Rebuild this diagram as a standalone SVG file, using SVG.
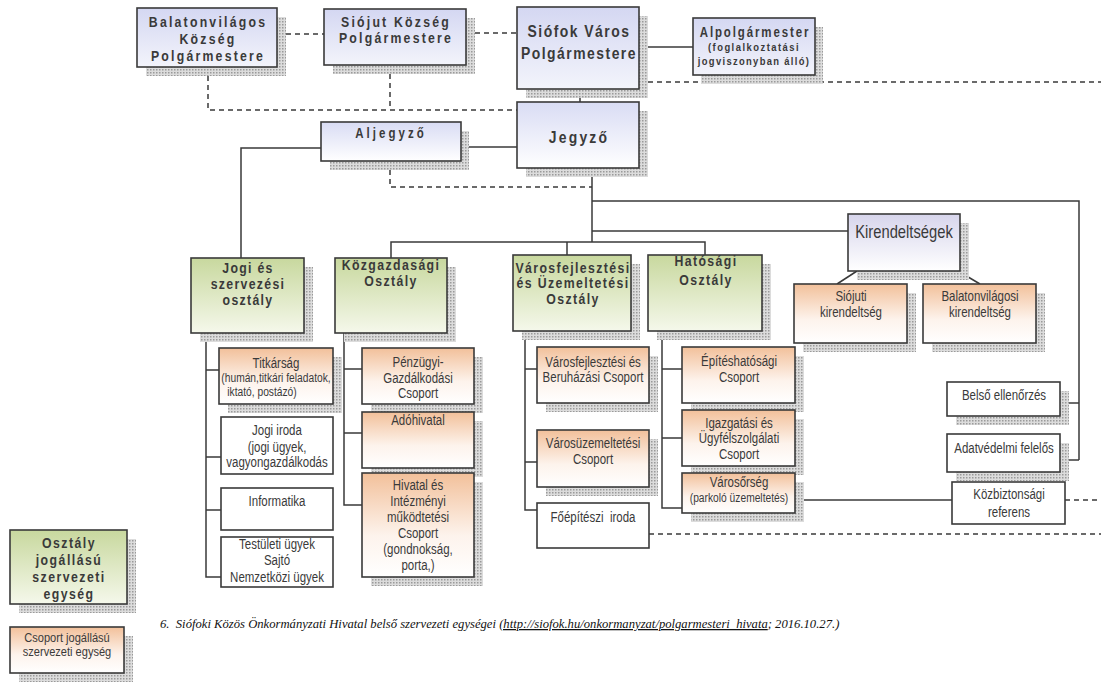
<svg xmlns="http://www.w3.org/2000/svg" width="1101" height="687" viewBox="0 0 1101 687">
<defs>
<pattern id="hatch" width="3" height="3" patternUnits="userSpaceOnUse"><rect width="3" height="3" fill="#dcdcdc"/><rect width="1.5" height="1.5" fill="#9a9a9a"/></pattern>
<linearGradient id="gBlue" x1="0" y1="0" x2="0" y2="1"><stop offset="0" stop-color="#d4d7f2"/><stop offset="1" stop-color="#f3f4fb"/></linearGradient>
<linearGradient id="gBlue2" x1="0" y1="0" x2="0" y2="1"><stop offset="0" stop-color="#d9dcf4"/><stop offset="1" stop-color="#ffffff"/></linearGradient>
<linearGradient id="gGreen" x1="0" y1="0" x2="0" y2="1"><stop offset="0" stop-color="#c8d89e"/><stop offset="1" stop-color="#f5f8eb"/></linearGradient>
<linearGradient id="gOrange" x1="0" y1="0" x2="0" y2="1"><stop offset="0" stop-color="#f2c09a"/><stop offset="0.6" stop-color="#fdf3ec"/><stop offset="1" stop-color="#ffffff"/></linearGradient>
<linearGradient id="gKir" x1="0" y1="0" x2="0" y2="1"><stop offset="0" stop-color="#d7d5ec"/><stop offset="1" stop-color="#ffffff"/></linearGradient>
</defs>
<style>
.box{stroke:#3a3a3a;stroke-width:1.6}
.sh{fill:url(#hatch)}
.blue{fill:url(#gBlue)}
.blue2{fill:url(#gBlue2)}
.green{fill:url(#gGreen)}
.orange{fill:url(#gOrange)}
.kir{fill:url(#gKir)}
.white{fill:#ffffff}
.t{font-family:"Liberation Sans",Arial,sans-serif;font-weight:bold;fill:#3a3a3a;text-anchor:middle}
.n{font-family:"Liberation Sans",Arial,sans-serif;fill:#3a3a3a;text-anchor:middle;font-size:14px}
.s{font-size:12.5px}
.line{fill:none;stroke:#3a3a3a;stroke-width:1.5}
.dash{fill:none;stroke:#3a3a3a;stroke-width:1.5;stroke-dasharray:5 4}
.cap{font-family:"Liberation Serif","Times New Roman",serif;font-style:italic;font-size:12.65px;fill:#111}
</style>

<g id="connectors">
<path class="line" d="M639,47 H693"/>
<path class="line" d="M580,89 V102"/>
<path class="line" d="M461,147 H517"/>
<path class="line" d="M321,148 H241 V258"/>
<path class="line" d="M592,168 V242"/>
<path class="line" d="M391,258 V242 H705 V255"/>
<path class="line" d="M567,242 V255"/>
<path class="line" d="M592,201 H1079 V460"/>
<path class="line" d="M592,231 H848"/>
<path class="line" d="M857,271 L837,284"/>
<path class="line" d="M958,271 L980,284"/>
<path class="line" d="M1060,403 H1079"/>
<path class="line" d="M1060,460 H1079"/>
<path class="line" d="M206,333 V577 H221 M206,370 H219 M206,457 H221 M206,510 H221"/>
<path class="line" d="M344,333 V505 H362 M344,369 H362 M344,433 H362"/>
<path class="line" d="M525,331 V510 H537 M525,369 H537 M525,462 H537"/>
<path class="line" d="M662,331 V508 H682 M662,369 H682 M662,438 H682"/>
<path class="line" d="M795,500 H952"/>
<path class="dash" d="M277,34 H324"/>
<path class="dash" d="M466,33 H517"/>
<path class="dash" d="M208,67 V110 H517"/>
<path class="dash" d="M390,65 V110"/>
<path class="dash" d="M639,82 H1101"/>
<path class="dash" d="M390,161 V187 H592"/>
<path class="dash" d="M1065,500 H1101"/>
<path class="dash" d="M649,534 H1101"/>
</g>

<g id="balatonvilagos-polgarmester">
<rect class="sh" x="146" y="17" width="140" height="59"/>
<rect class="box blue" x="137" y="8" width="140" height="59"/>
<text class="t" style="font-size:15px;letter-spacing:2.7px" transform="translate(208,0) scale(.82,1)" x="0" y="27">Balatonvilágos</text>
<text class="t" style="font-size:15px;letter-spacing:2.7px" transform="translate(208,0) scale(.82,1)" x="0" y="44">Község</text>
<text class="t" style="font-size:15px;letter-spacing:2.7px" transform="translate(208,0) scale(.82,1)" x="0" y="61">Polgármestere</text>
</g>

<g id="siojut-polgarmester">
<rect class="sh" x="333" y="18" width="142" height="56"/>
<rect class="box blue" x="324" y="9" width="142" height="56"/>
<text class="t" style="font-size:15px;letter-spacing:2.7px" transform="translate(396,0) scale(.82,1)" x="0" y="27">Siójut Község</text>
<text class="t" style="font-size:15px;letter-spacing:2.7px" transform="translate(396,0) scale(.82,1)" x="0" y="43">Polgármestere</text>
</g>

<g id="siofok-polgarmester">
<rect class="sh" x="526" y="16" width="122" height="82"/>
<rect class="box blue" x="517" y="7" width="122" height="82"/>
<text class="t" style="font-size:17px;letter-spacing:1.8px" transform="translate(579,0) scale(.82,1)" x="0" y="37">Siófok Város</text>
<text class="t" style="font-size:17px;letter-spacing:1.8px" transform="translate(579,0) scale(.82,1)" x="0" y="59">Polgármestere</text>
</g>

<g id="alpolgarmester">
<rect class="sh" x="701" y="27" width="122" height="57"/>
<rect class="box blue" x="693" y="18" width="122" height="57"/>
<text class="t" style="font-size:14px;letter-spacing:2.3px" transform="translate(755,0) scale(.82,1)" x="0" y="37">Alpolgármester</text>
<text class="t" style="font-size:11.5px;letter-spacing:1.8px" transform="translate(754,0) scale(.82,1)" x="0" y="51">(foglalkoztatási</text>
<text class="t" style="font-size:11.5px;letter-spacing:1.6px" transform="translate(754,0) scale(.82,1)" x="0" y="65">jogviszonyban álló)</text>
</g>

<g id="jegyzo">
<rect class="sh" x="526" y="111" width="122" height="66"/>
<rect class="box blue2" x="517" y="102" width="122" height="66"/>
<text class="t" style="font-size:17px;letter-spacing:2.7px" transform="translate(579,0) scale(.82,1)" x="0" y="143">Jegyző</text>
</g>

<g id="aljegyzo">
<rect class="sh" x="330" y="131" width="139" height="39"/>
<rect class="box blue2" x="321" y="122" width="140" height="39"/>
<text class="t" style="font-size:14px;letter-spacing:3.7px" transform="translate(391,0) scale(.82,1)" x="0" y="138">Aljegyző</text>
</g>

<g id="jogi-osztaly">
<rect class="sh" x="200" y="267" width="113" height="75"/>
<rect class="box green" x="191" y="258" width="113" height="75"/>
<text class="t" style="font-size:15px;letter-spacing:1.6px" transform="translate(248,0) scale(.82,1)" x="0" y="273">Jogi és</text>
<text class="t" style="font-size:15px;letter-spacing:1.6px" transform="translate(248,0) scale(.82,1)" x="0" y="289">szervezési</text>
<text class="t" style="font-size:15px;letter-spacing:1.6px" transform="translate(248,0) scale(.82,1)" x="0" y="305">osztály</text>
</g>

<g id="kozgazdasagi-osztaly">
<rect class="sh" x="344" y="267" width="112" height="75"/>
<rect class="box green" x="335" y="258" width="112" height="75"/>
<text class="t" style="font-size:15px;letter-spacing:1.7px" transform="translate(391,0) scale(.82,1)" x="0" y="270">Közgazdasági</text>
<text class="t" style="font-size:15px;letter-spacing:1.7px" transform="translate(391,0) scale(.82,1)" x="0" y="286">Osztály</text>
</g>

<g id="varosfejlesztesi-osztaly">
<rect class="sh" x="522" y="264" width="118" height="76"/>
<rect class="box green" x="513" y="255" width="118" height="76"/>
<text class="t" style="font-size:15px;letter-spacing:1.7px" transform="translate(573,0) scale(.82,1)" x="0" y="273">Városfejlesztési</text>
<text class="t" style="font-size:15px;letter-spacing:1.7px" transform="translate(573,0) scale(.82,1)" x="0" y="288">és Üzemeltetési</text>
<text class="t" style="font-size:15px;letter-spacing:1.7px" transform="translate(573,0) scale(.82,1)" x="0" y="304">Osztály</text>
</g>

<g id="hatosagi-osztaly">
<rect class="sh" x="657" y="264" width="114" height="76"/>
<rect class="box green" x="648" y="255" width="114" height="76"/>
<text class="t" style="font-size:15px;letter-spacing:1.7px" transform="translate(706,0) scale(.82,1)" x="0" y="266">Hatósági</text>
<text class="t" style="font-size:15px;letter-spacing:1.7px" transform="translate(706,0) scale(.82,1)" x="0" y="285">Osztály</text>
</g>

<g id="kirendeltsegek">
<rect class="sh" x="857" y="223" width="112" height="57"/>
<rect class="box kir" x="848" y="214" width="112" height="57"/>
<text class="n" style="font-size:18px" transform="translate(904,0) scale(.82,1)" x="0" y="238">Kirendeltségek</text>
</g>

<g id="siojuti-kirendeltseg">
<rect class="sh" x="803" y="293" width="113" height="59"/>
<rect class="box orange" x="794" y="284" width="113" height="59"/>
<text class="n" transform="translate(851,0) scale(.82,1)" x="0" y="301">Siójuti</text>
<text class="n" transform="translate(851,0) scale(.82,1)" x="0" y="317">kirendeltség</text>
</g>

<g id="balatonvilagosi-kirendeltseg">
<rect class="sh" x="932" y="293" width="113" height="59"/>
<rect class="box orange" x="923" y="284" width="113" height="59"/>
<text class="n" transform="translate(980,0) scale(.82,1)" x="0" y="301">Balatonvilágosi</text>
<text class="n" transform="translate(980,0) scale(.82,1)" x="0" y="317">kirendeltség</text>
</g>

<g id="titkarsag">
<rect class="sh" x="228" y="357" width="114" height="56"/>
<rect class="box orange" x="219" y="348" width="114" height="56"/>
<text class="n" transform="translate(276,0) scale(.82,1)" x="0" y="368">Titkárság</text>
<text class="n s" transform="translate(276,0) scale(.82,1)" x="0" y="382">(humán,titkári feladatok,</text>
<text class="n s" transform="translate(262,0) scale(.82,1)" x="0" y="396">iktató, postázó)</text>
</g>

<g id="jogi-iroda">
<rect class="box white" x="221" y="417" width="112" height="57"/>
<text class="n" transform="translate(277,0) scale(.82,1)" x="0" y="435">Jogi iroda</text>
<text class="n" transform="translate(277,0) scale(.82,1)" x="0" y="452">(jogi ügyek,</text>
<text class="n" transform="translate(277,0) scale(.82,1)" x="0" y="467">vagyongazdálkodás</text>
</g>

<g id="informatika">
<rect class="box white" x="221" y="488" width="112" height="42"/>
<text class="n" transform="translate(277,0) scale(.82,1)" x="0" y="506">Informatika</text>
</g>

<g id="testuleti-ugyek">
<rect class="box white" x="221" y="537" width="112" height="50"/>
<text class="n" transform="translate(277,0) scale(.82,1)" x="0" y="549">Testületi ügyek</text>
<text class="n" transform="translate(277,0) scale(.82,1)" x="0" y="565">Sajtó</text>
<text class="n" transform="translate(277,0) scale(.82,1)" x="0" y="582">Nemzetközi ügyek</text>
</g>

<g id="penzugyi-csoport">
<rect class="sh" x="371" y="357" width="112" height="56"/>
<rect class="box orange" x="362" y="348" width="112" height="56"/>
<text class="n" transform="translate(418,0) scale(.82,1)" x="0" y="367">Pénzügyi-</text>
<text class="n" transform="translate(418,0) scale(.82,1)" x="0" y="383">Gazdálkodási</text>
<text class="n" transform="translate(418,0) scale(.82,1)" x="0" y="398">Csoport</text>
</g>

<g id="adohivatal">
<rect class="sh" x="371" y="421" width="112" height="56"/>
<rect class="box orange" x="362" y="412" width="112" height="56"/>
<text class="n" transform="translate(418,0) scale(.82,1)" x="0" y="425">Adóhivatal</text>
</g>

<g id="hivatal-intezmenyi-csoport">
<rect class="sh" x="371" y="482" width="112" height="104"/>
<rect class="box orange" x="362" y="473" width="112" height="104"/>
<text class="n" transform="translate(418,0) scale(.82,1)" x="0" y="490">Hivatal és</text>
<text class="n" transform="translate(418,0) scale(.82,1)" x="0" y="506">Intézményi</text>
<text class="n" transform="translate(418,0) scale(.82,1)" x="0" y="522">működtetési</text>
<text class="n" transform="translate(418,0) scale(.82,1)" x="0" y="538">Csoport</text>
<text class="n" transform="translate(418,0) scale(.82,1)" x="0" y="554">(gondnokság,</text>
<text class="n" transform="translate(418,0) scale(.82,1)" x="0" y="570">porta,)</text>
</g>

<g id="varosfejlesztesi-csoport">
<rect class="sh" x="546" y="356" width="112" height="56"/>
<rect class="box orange" x="537" y="347" width="112" height="56"/>
<text class="n" transform="translate(593,0) scale(.82,1)" x="0" y="367">Városfejlesztési és</text>
<text class="n" transform="translate(593,0) scale(.82,1)" x="0" y="382">Beruházási Csoport</text>
</g>

<g id="varosuzemeltetesi-csoport">
<rect class="sh" x="546" y="439" width="112" height="57"/>
<rect class="box orange" x="537" y="430" width="112" height="57"/>
<text class="n" transform="translate(593,0) scale(.82,1)" x="0" y="448">Városüzemeltetési</text>
<text class="n" transform="translate(593,0) scale(.82,1)" x="0" y="464">Csoport</text>
</g>

<g id="foepiteszi-iroda">
<rect class="box white" x="537" y="503" width="112" height="45"/>
<text class="n" transform="translate(593,0) scale(.82,1)" x="0" y="522" xml:space="preserve">Főépítészi  iroda</text>
</g>

<g id="epitesh-csoport">
<rect class="sh" x="691" y="356" width="113" height="56"/>
<rect class="box orange" x="682" y="347" width="113" height="56"/>
<text class="n" transform="translate(739,0) scale(.82,1)" x="0" y="366">Építéshatósági</text>
<text class="n" transform="translate(739,0) scale(.82,1)" x="0" y="382">Csoport</text>
</g>

<g id="igazgatasi-csoport">
<rect class="sh" x="691" y="419" width="113" height="56"/>
<rect class="box orange" x="682" y="410" width="113" height="56"/>
<text class="n" transform="translate(739,0) scale(.82,1)" x="0" y="428">Igazgatási és</text>
<text class="n" transform="translate(739,0) scale(.82,1)" x="0" y="443">Ügyfélszolgálati</text>
<text class="n" transform="translate(739,0) scale(.82,1)" x="0" y="459">Csoport</text>
</g>

<g id="varosorseg">
<rect class="sh" x="691" y="482" width="113" height="40"/>
<rect class="box orange" x="682" y="473" width="113" height="40"/>
<text class="n" transform="translate(739,0) scale(.82,1)" x="0" y="487">Városőrség</text>
<text class="n" style="font-size:12.5px" transform="translate(739,0) scale(.82,1)" x="0" y="502">(parkoló üzemeltetés)</text>
</g>

<g id="belso-ellenorzes">
<rect class="sh" x="956" y="391" width="113" height="34"/>
<rect class="box white" x="947" y="382" width="113" height="34"/>
<text class="n" transform="translate(1004,0) scale(.82,1)" x="0" y="400">Belső ellenőrzés</text>
</g>

<g id="adatvedelmi-felelos">
<rect class="sh" x="956" y="443" width="113" height="38"/>
<rect class="box white" x="947" y="434" width="113" height="38"/>
<text class="n" transform="translate(1004,0) scale(.82,1)" x="0" y="453">Adatvédelmi felelős</text>
</g>

<g id="kozbiztonsagi-referens">
<rect class="box white" x="952" y="482" width="113" height="42"/>
<text class="n" transform="translate(1009,0) scale(.82,1)" x="0" y="499">Közbiztonsági</text>
<text class="n" transform="translate(1009,0) scale(.82,1)" x="0" y="517">referens</text>
</g>

<g id="legend-osztaly">
<rect class="sh" x="19" y="539" width="117" height="74"/>
<rect class="box green" x="10" y="530" width="117" height="74"/>
<text class="t" style="font-size:15px;letter-spacing:1.8px" transform="translate(69,0) scale(.82,1)" x="0" y="548">Osztály</text>
<text class="t" style="font-size:15px;letter-spacing:1.8px" transform="translate(69,0) scale(.82,1)" x="0" y="565">jogállású</text>
<text class="t" style="font-size:15px;letter-spacing:1.8px" transform="translate(69,0) scale(.82,1)" x="0" y="582">szervezeti</text>
<text class="t" style="font-size:15px;letter-spacing:1.8px" transform="translate(69,0) scale(.82,1)" x="0" y="599">egység</text>
</g>

<g id="legend-csoport">
<rect class="sh" x="19" y="636" width="114" height="46"/>
<rect class="box orange" x="10" y="627" width="114" height="46"/>
<text class="n" style="font-size:13.5px" transform="translate(67,0) scale(.82,1)" x="0" y="642">Csoport jogállású</text>
<text class="n" style="font-size:13.5px" transform="translate(67,0) scale(.82,1)" x="0" y="656">szervezeti egység</text>
</g>

<text class="cap" x="160" y="628" xml:space="preserve">6.  Siófoki Közös Önkormányzati Hivatal belső szervezeti egységei <tspan text-decoration="underline">(http://siofok.hu/onkormanyzat/polgarmesteri_hivata</tspan>; 2016.10.27.)</text>
</svg>
